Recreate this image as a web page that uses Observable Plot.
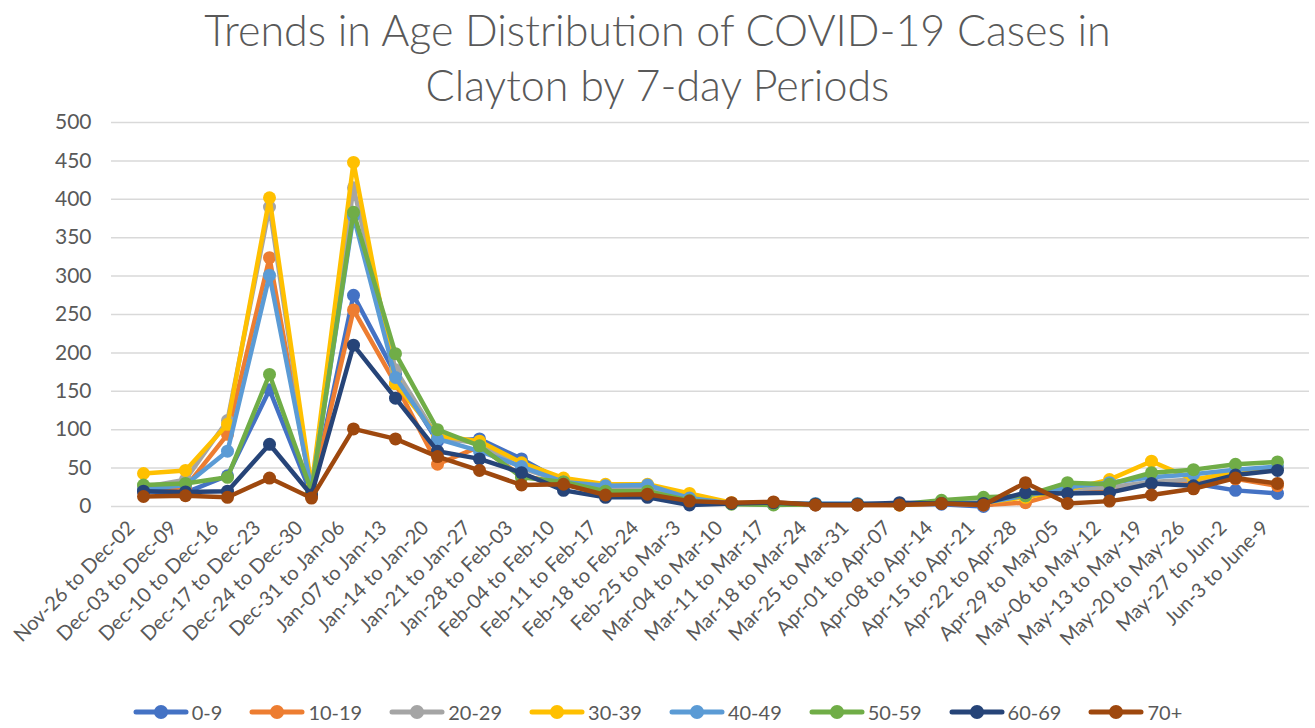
<!DOCTYPE html>
<html><head><meta charset="utf-8">
<script src="https://cdn.jsdelivr.net/npm/d3@7"></script>
<script src="https://cdn.jsdelivr.net/npm/@observablehq/plot@0.6"></script>
<style>
body{margin:0;background:#fff;font-family:Lato,"Open Sans",sans-serif;}
#wrap{width:1315px;height:728px;position:relative;overflow:hidden;background:#fff}
#title{position:absolute;top:2px;left:0;width:1315px;text-align:center;color:#595959;font-size:43px;line-height:55px;font-weight:300}
#chart{position:absolute;top:105px;left:0}
#legend{position:absolute;top:700px;left:0;width:1315px;display:flex;justify-content:center;align-items:center;gap:27px;color:#595959;font-size:20px}
.item{display:flex;align-items:center;gap:3px}
</style>
</head><body>
<div id="wrap">
  <div id="title">Trends in Age Distribution of COVID-19 Cases in<br>Clayton by 7-day Periods</div>
  <div id="chart"></div>
  <div id="legend"></div>
</div>
<script>
const periods = ["Nov-26 to Dec-02","Dec-03 to Dec-09","Dec-10 to Dec-16","Dec-17 to Dec-23","Dec-24 to Dec-30","Dec-31 to Jan-06","Jan-07 to Jan-13","Jan-14 to Jan-20","Jan-21 to Jan-27","Jan-28 to Feb-03","Feb-04 to Feb-10","Feb-11 to Feb-17","Feb-18 to Feb-24","Feb-25 to Mar-3","Mar-04 to Mar-10","Mar-11 to Mar-17","Mar-18 to Mar-24","Mar-25 to Mar-31","Apr-01 to Apr-07","Apr-08 to Apr-14","Apr-15 to Apr-21","Apr-22 to Apr-28","Apr-29 to May-05","May-06 to May-12","May-13 to May-19","May-20 to May-26","May-27 to Jun-2","Jun-3 to June-9"];
const ages = ["0-9","10-19","20-29","30-39","40-49","50-59","60-69","70+"];
const colors = ["#4472C4","#ED7D31","#A5A5A5","#FFC000","#5B9BD5","#70AD47","#264478","#9E480E"];
const yTicks = [0,50,100,150,200,250,300,350,400,450,500];

const age0_9   = [20,18,40,152,15,275,172,85,88,62,32,22,22,10,4,3,2,2,3,3,0,15,18,20,32,30,21,17];
const age10_19 = [22,25,94,324,18,256,160,55,78,40,30,20,20,8,4,4,2,2,2,4,2,5,20,23,30,30,36,27];
const age20_29 = [25,35,112,390,20,415,178,90,82,50,32,22,22,12,4,3,3,3,2,5,5,15,22,25,32,35,42,50];
const age30_39 = [43,47,107,402,25,448,160,92,85,57,37,29,29,17,5,4,3,3,2,5,5,12,22,35,59,35,45,50];
const age40_49 = [22,28,72,301,22,378,168,88,72,52,32,27,28,11,4,3,4,4,3,5,5,14,25,31,38,42,48,52];
const age50_59 = [28,30,38,172,20,383,199,100,79,38,32,20,20,8,3,2,3,3,3,8,12,14,31,29,44,48,55,58];
const age60_69 = [20,19,20,81,15,210,141,72,62,44,21,12,12,2,4,5,3,3,5,4,4,18,17,18,30,27,41,47];
const age70p   = [13,14,12,37,11,101,88,65,47,28,29,15,16,7,5,6,2,2,2,4,2,31,4,7,15,23,37,30];

const series = [age0_9,age10_19,age20_29,age30_39,age40_49,age50_59,age60_69,age70p];
const rows = ages.map((a,i)=>series[i].map((v,j)=>({period:periods[j],age:a,value:v})));

const seriesMarks = rows.flatMap(r => [
  Plot.line(r,{x:"period",y:"value",stroke:"age",strokeWidth:4.5,strokeLinejoin:"round",strokeLinecap:"round"}),
  Plot.dot(r,{x:"period",y:"value",fill:"age",r:6.5})
]);

const chart = Plot.plot({
  width:1315, height:571,
  marginTop:17, marginBottom:170, marginLeft:111, marginRight:6,
  style:{fontFamily:"Lato, 'Open Sans', sans-serif", fontSize:"20px", color:"#595959", background:"transparent"},
  x:{type:"point", domain:periods, padding:0.5},
  y:{domain:[0,500]},
  color:{domain:ages, range:colors},
  marks:[
    Plot.gridY(yTicks,{stroke:"#D9D9D9", strokeOpacity:1, strokeWidth:1.5}),
    Plot.axisY({ticks:yTicks, tickSize:0, tickPadding:20, fontSize:21, color:"#595959", label:null}),
    Plot.axisX({tickRotate:-45, tickSize:0, tickPadding:6, fontSize:20, dx:-12, dy:12, color:"#595959", label:null}),
    ...seriesMarks
  ]
});
document.getElementById("chart").appendChild(chart);

const leg = document.getElementById("legend");
ages.forEach((a,i)=>{
  const it = document.createElement("div"); it.className="item";
  it.innerHTML = `<svg width="56" height="16"><line x1="3" y1="8" x2="53" y2="8" stroke="${colors[i]}" stroke-width="5" stroke-linecap="round"/><circle cx="28" cy="8" r="7" fill="${colors[i]}"/></svg><span>${a}</span>`;
  leg.appendChild(it);
});
</script>
</body></html>
